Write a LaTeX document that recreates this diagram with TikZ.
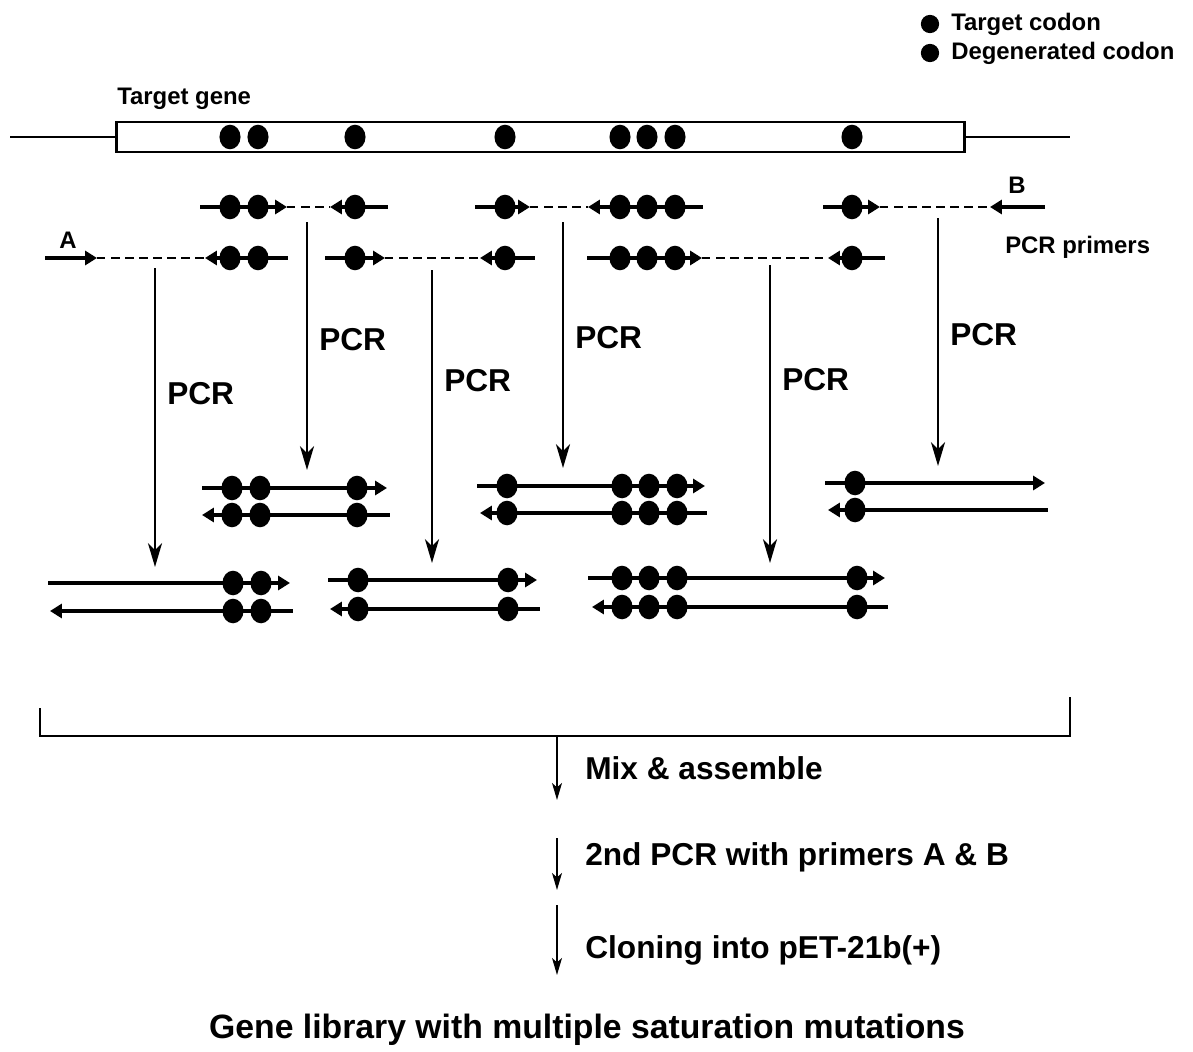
\documentclass[tikz,border=0pt]{standalone}
\usepackage{fontspec}
\setmainfont{Liberation Sans}
\usetikzlibrary{arrows.meta,positioning,shapes.geometric}
\tikzset{
    every picture/.style={line join=miter},
    codon/.style={ellipse,fill=black,draw=none,minimum width=15pt,
      minimum height=17.5pt,inner sep=0pt},
    legenddot/.style={circle,fill=black,minimum size=13pt,inner sep=0pt},
    strand/.style={line width=2.4pt},
    fwdstrand/.style={strand,-{Triangle[length=8.5pt,width=10pt]}},
    revstrand/.style={strand,{Triangle[length=8.5pt,width=10pt]}-},
    template/.style={line width=0.9pt,dash pattern=on 6pt off 4pt},
    pcrarrow/.style={line width=2pt,-{Stealth[length=17pt,width=10pt,inset=5pt]}},
    steparrow/.style={line width=1.5pt,-{Stealth[length=12pt,width=7pt,inset=3pt]}},
    biglabel/.style={font=\bfseries\fontsize{22.5}{26}\selectfont,inner sep=0pt,anchor=west},
    smalllabel/.style={font=\bfseries\fontsize{17}{20}\selectfont,inner sep=0pt,anchor=west}
}
\newcommand{\dna}[5]{%
  \draw[#1] (#2,#4) -- (#3,#4);
  \foreach \d in {#5} \node[codon] (c\d-#4) at (\d,#4) {};}

\begin{document}
\begin{tikzpicture}[x=0.025cm,y=-0.025cm]
  \useasboundingbox (0,0) rectangle (1193,1052);
  % legend
  \node[legenddot] (leg1) at (930,24) {};
  \node[legenddot] (leg2) at (930,53) {};
  \node[smalllabel] (legtext1) at (951,24) {Target codon};
  \node[smalllabel] (legtext2) at (951,53) {Degenerated codon};
  % target gene
  \node[smalllabel] (genelabel) at (117,99) {Target gene};
  \node[draw,line width=2pt,minimum width=21.175cm,minimum height=0.75cm,inner sep=0pt]
    (gene) at (540.5,137) {};
  \coordinate (flankL) at (10,137);
  \coordinate (flankR) at (1070,137);
  \draw[line width=1.8pt] (flankL) -- (gene.west);
  \draw[line width=1.8pt] (gene.east) -- (flankR);
  \foreach \x in {230,258,355,505,620,647,675,852}
    \node[codon] (g\x) at (\x,137) {};
  % primers, first row
  \draw[template] (287,207) -- (330,207);
  \draw[template] (530,207) -- (588,207);
  \draw[template] (880,207) -- (990,207);
  \dna{fwdstrand}{200}{287}{207}{230,258}
  \dna{revstrand}{330}{388}{207}{355}
  \dna{fwdstrand}{475}{530}{207}{505}
  \dna{revstrand}{588}{703}{207}{620,647,675}
  \dna{fwdstrand}{823}{880}{207}{852}
  \coordinate (primerB) at (1045,207);
  \coordinate (primerBtip) at (990,207);
  \draw[strand,-{Triangle[length=8.5pt,width=10pt]}] (primerB) -- (primerBtip);
  \node[smalllabel,anchor=center] (labB) at (1017,185) {B};
  % primers, second row
  \draw[template] (97,258) -- (205,258);
  \draw[template] (385,258) -- (480,258);
  \draw[template] (702,258) -- (828,258);
  \coordinate (primerA) at (45,258);
  \coordinate (primerAtip) at (97,258);
  \draw[fwdstrand] (primerA) -- (primerAtip);
  \node[smalllabel,anchor=center] (labA) at (68,240) {A};
  \dna{revstrand}{205}{288}{258}{230,258}
  \dna{fwdstrand}{325}{385}{258}{355}
  \dna{revstrand}{480}{535}{258}{505}
  \dna{fwdstrand}{587}{702}{258}{620,647,675}
  \dna{revstrand}{828}{885}{258}{852}
  \node[smalllabel] (primerlabel) at (1005,247) {PCR primers};
  % PCR steps
  \foreach \n/\x/\ya/\yb/\ly in {1/155/268/567/394,2/307/222/470/340,3/432/270/563/381,
                                 4/563/222/468/338,5/770/265/563/380,6/938/218/466/335}{
    \coordinate (pcr\n top) at (\x,\ya);
    \coordinate (pcr\n bot) at (\x,\yb);
    \draw[pcrarrow] (pcr\n top) -- (pcr\n bot);
    \node[biglabel] (pcrlab\n) at (\x+12,\ly) {PCR};
  }
  % products, upper row
  \dna{fwdstrand}{202}{387}{488}{232,260,357}
  \dna{revstrand}{202}{390}{515}{232,260,357}
  \dna{fwdstrand}{477}{705}{486}{507,622,649,677}
  \dna{revstrand}{480}{707}{513}{507,622,649,677}
  \dna{fwdstrand}{825}{1045}{483}{855}
  \dna{revstrand}{828}{1048}{510}{855}
  % products, lower row
  \dna{fwdstrand}{48}{290}{583}{233,261}
  \dna{revstrand}{50}{293}{611}{233,261}
  \dna{fwdstrand}{328}{537}{580}{358,508}
  \dna{revstrand}{330}{540}{609}{358,508}
  \dna{fwdstrand}{588}{885}{578}{622,649,677,857}
  \dna{revstrand}{592}{888}{607}{622,649,677,857}
  % pooling
  \coordinate (poolL) at (40,708);
  \coordinate (poolR) at (1070,697);
  \coordinate (pool) at (557,736);
  \draw[line width=1.8pt] (poolL) |- (poolR |- pool) -- (poolR);
  \coordinate (s1) at (557,800);
  \coordinate (s2a) at (557,838);
  \coordinate (s2) at (557,890);
  \coordinate (s3a) at (557,905);
  \coordinate (s3) at (557,975);
  \draw[steparrow] (pool) -- (s1);
  \draw[steparrow] (s2a) -- (s2);
  \draw[steparrow] (s3a) -- (s3);
  \node[biglabel] (mix) at (585,768) {Mix \& assemble};
  \node[biglabel] (second) at (585,857) {2nd PCR with primers A \& B};
  \node[biglabel] (cloning) at (585,950) {Cloning into pET-21b(+)};
  \node[biglabel,anchor=center,font=\bfseries\fontsize{24}{28}\selectfont]
    (library) at (587,1030) {Gene library with multiple saturation mutations};
\end{tikzpicture}
\end{document}
